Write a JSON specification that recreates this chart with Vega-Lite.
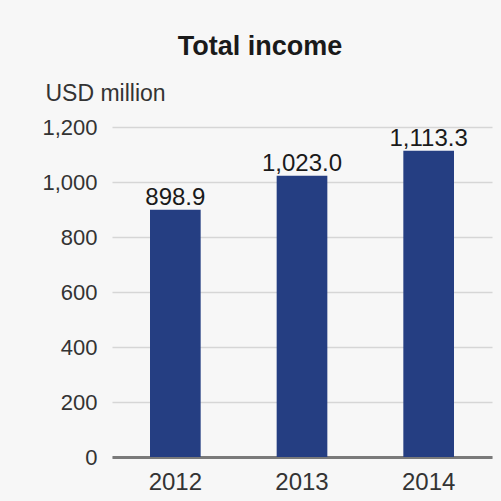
{
  "$schema": "https://vega.github.io/schema/vega-lite/v6.json",
  "width": 380,
  "height": 330,
  "autosize": {"type": "none"},
  "padding": {"left": 112, "top": 127, "right": 9, "bottom": 44},
  "background": "#f7f7f7",
  "title": {
    "text": "Total income",
    "font": "Liberation Sans",
    "fontSize": 27,
    "fontWeight": "bold",
    "color": "#1a1a1a",
    "anchor": "middle",
    "dx": -42,
    "offset": 21
  },
  "data": {
    "values": [
      {"year": "2012", "income": 898.9},
      {"year": "2013", "income": 1023.0},
      {"year": "2014", "income": 1113.3}
    ]
  },
  "config": {
    "view": {"stroke": null},
    "font": "Liberation Sans"
  },
  "encoding": {
    "x": {
      "field": "year",
      "type": "nominal",
      "sort": null,
      "scale": {"paddingInner": 0.6, "paddingOuter": 0.3},
      "axis": {
        "title": null,
        "labelAngle": 0,
        "labelFont": "Liberation Sans",
        "labelFontSize": 24,
        "labelColor": "#333333",
        "labelPadding": 13,
        "ticks": false,
        "domainColor": "#7a7a7a",
        "domainWidth": 3
      }
    },
    "y": {
      "field": "income",
      "type": "quantitative",
      "scale": {"domain": [0, 1200]},
      "axis": {
        "title": "USD million",
        "titleAngle": 0,
        "titleAlign": "left",
        "titleBaseline": "alphabetic",
        "titleX": -67,
        "titleY": -27,
        "titleFont": "Liberation Sans",
        "titleFontSize": 23,
        "titleFontWeight": "normal",
        "titleColor": "#333333",
        "values": [0, 200, 400, 600, 800, 1000, 1200],
        "format": ",.0f",
        "labelFont": "Liberation Sans",
        "labelFontSize": 22,
        "labelColor": "#333333",
        "labelPadding": 15,
        "ticks": false,
        "domain": false,
        "grid": true,
        "gridColor": "#d6d6d6",
        "gridWidth": 1.5
      }
    }
  },
  "layer": [
    {"mark": {"type": "bar", "color": "#253e82"}},
    {
      "mark": {"type": "text", "baseline": "alphabetic", "dy": -5, "fontSize": 24, "color": "#1a1a1a", "font": "Liberation Sans"},
      "encoding": {"text": {"field": "income", "type": "quantitative", "format": ",.1f"}}
    }
  ]
}
